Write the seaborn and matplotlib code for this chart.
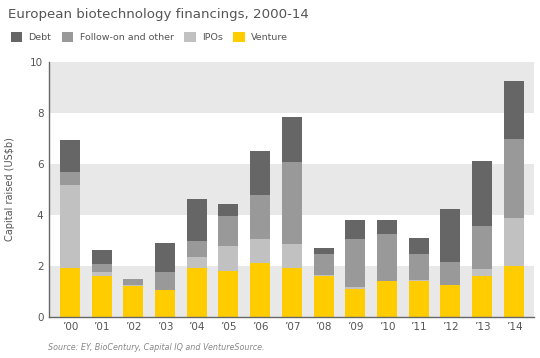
import pandas as pd
import numpy as np
import matplotlib
matplotlib.use("Agg")
import matplotlib.pyplot as plt
import seaborn as sns
from matplotlib.patches import Patch

# data (US$b)
years = ["\u201900", "\u201901", "\u201902", "\u201903", "\u201904", "\u201905", "\u201906", "\u201907",
         "\u201908", "\u201909", "\u201910", "\u201911", "\u201912", "\u201913", "\u201914"]
venture = [1.93, 1.60, 1.22, 1.05, 1.93, 1.80, 2.11, 1.93, 1.61, 1.09, 1.40, 1.39, 1.25, 1.61, 1.99]
ipos = [3.25, 0.16, 0.04, 0.00, 0.42, 0.98, 0.94, 0.93, 0.03, 0.08, 0.00, 0.06, 0.00, 0.26, 1.89]
follow_on = [0.51, 0.31, 0.22, 0.71, 0.63, 1.18, 1.73, 3.22, 0.82, 1.88, 1.85, 1.01, 0.90, 1.69, 3.11]
debt = [1.26, 0.55, 0.00, 1.14, 1.65, 0.47, 1.73, 1.77, 0.24, 0.75, 0.55, 0.63, 2.08, 2.56, 2.28]

series_names = ["Debt", "Follow-on and other", "IPOs", "Venture"]
colors = {"Debt": "#666666", "Follow-on and other": "#999999", "IPOs": "#c1c1c1", "Venture": "#ffcc00"}

df = pd.DataFrame({"year": years, "Venture": venture, "IPOs": ipos,
                   "Follow-on and other": follow_on, "Debt": debt})
# cumulative heights for stacking (bottom -> top)
df["c_venture"] = df["Venture"]
df["c_ipos"] = df["c_venture"] + df["IPOs"]
df["c_follow"] = df["c_ipos"] + df["Follow-on and other"]
df["c_debt"] = df["c_follow"] + df["Debt"]

sns.set_style("white")
plt.rcParams["font.family"] = ["DejaVu Sans"]

fig = plt.figure(figsize=(5.4, 3.58), dpi=100)
ax = fig.add_axes([0.0907, 0.1154, 0.898, 0.7106])

# alternating grey bands
for lo in [0, 4, 8]:
    ax.axhspan(lo, lo + 2, color="#e8e8e8", zorder=0, lw=0)

# draw from the total down so each layer overlays the one below
for col, name in [("c_debt", "Debt"), ("c_follow", "Follow-on and other"),
                  ("c_ipos", "IPOs"), ("c_venture", "Venture")]:
    sns.barplot(data=df, x="year", y=col, color=colors[name], width=0.63,
                saturation=1, ax=ax, zorder=2, linewidth=0)

ax.set_xlim(-0.66, 14.63)
ax.set_ylim(0, 10)
ax.set_yticks([0, 2, 4, 6, 8, 10])
ax.set_xlabel("")
ax.set_ylabel("Capital raised (US$b)", fontsize=7, color="#555555", labelpad=11)
ax.tick_params(axis="both", length=0, labelsize=7.5, labelcolor="#555555")
ax.tick_params(axis="y", pad=4)
ax.tick_params(axis="x", pad=4)
for s in ["top", "right"]:
    ax.spines[s].set_visible(False)
for s in ["left", "bottom"]:
    ax.spines[s].set_color("#666666")
    ax.spines[s].set_linewidth(1.0)

fig.text(0.015, 0.96, "European biotechnology financings, 2000-14", fontsize=9.6,
         color="#555555", va="center", ha="left")

handles = [Patch(facecolor=colors[n], edgecolor="none") for n in series_names]
fig.legend(handles, series_names, loc="center left", bbox_to_anchor=(0.004, 0.897),
           ncol=4, frameon=False, fontsize=6.8, labelcolor="#555555",
           handlelength=1.2, handleheight=1.2, handletextpad=0.7, columnspacing=1.1)

fig.text(0.089, 0.028, "Source: EY, BioCentury, Capital IQ and VentureSource.", fontsize=5.8,
         style="italic", color="#888888", va="center", ha="left")

fig.savefig("out.png", dpi=100)
